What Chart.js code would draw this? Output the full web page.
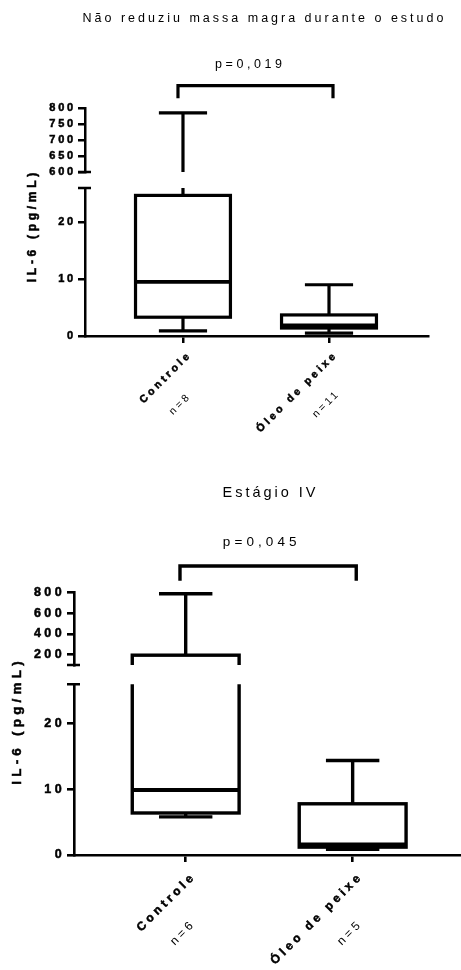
<!DOCTYPE html>
<html>
<head>
<meta charset="utf-8">
<script src="https://cdn.jsdelivr.net/npm/chart.js@4.4.0/dist/chart.umd.min.js"></script>
<style>
  html, body { margin: 0; padding: 0; background: #fff; }
  .panel { position: absolute; left: 0; width: 461px; }
</style>
</head>
<body>
<div class="panel" style="top:0;height:465px"><canvas id="c1"></canvas></div>
<div class="panel" style="top:465px;height:505px"><canvas id="c2"></canvas></div>
<script>
const groups = ['Controle', 'Óleo de peixe'];

// painel 1 - nao reduziu massa magra
const title1 = 'Não reduziu massa magra durante o estudo';
const pValue1 = 'p=0,019';
const nLabels1 = ['n=8', 'n=11'];
const min1 = [0.9, 0.5];
const q1_1 = [3.3, 1.4];
const median1 = [9.5, 1.9];
const q3_1 = [24.7, 3.7];
const max1 = [785, 9.0];
const lowRange1 = [0, 26];
const highRange1 = [600, 800];
const lowTicks1 = [0, 10, 20];
const highTicks1 = [600, 650, 700, 750, 800];

// painel 2 - estagio IV
const title2 = 'Estágio IV';
const pValue2 = 'p=0,045';
const nLabels2 = ['n=6', 'n=5'];
const min2 = [5.8, 0.85];
const q1_2 = [6.4, 1.2];
const median2 = [9.9, 1.6];
const q3_2 = [195, 7.8];
const max2 = [790, 14.4];
const lowRange2 = [0, 26];
const highRange2 = [100, 800];
const lowTicks2 = [0, 10, 20];
const highTicks2 = [200, 400, 600, 800];

const yTitle = 'IL-6 (pg/mL)';
const FONT = '"Liberation Sans", Arial, Helvetica, sans-serif';

function txt(ctx, s, x, y, size, weight, ls, align) {
  ctx.font = weight + ' ' + size + 'px ' + FONT;
  ctx.letterSpacing = ls + 'px';
  ctx.textAlign = align;
  // letter spacing is added after each glyph, shift so the ink is centred
  const shift = align === 'center' ? ls / 2 : (align === 'right' ? ls : 0);
  ctx.fillText(s, x + shift, y);
  if (weight === 'bold') {
    ctx.lineWidth = 0.5;
    ctx.strokeText(s, x + shift, y);
  }
}

function boxPlugin(p) {
  return {
    id: 'boxes',
    beforeDraw(chart) {
      chart.ctx.letterSpacing = p.tickLs + 'px';
    },
    afterDraw(chart) {
      const ctx = chart.ctx;
      const xs = chart.scales.x;
      const area = chart.chartArea;
      const segs = [chart.scales.yHigh, chart.scales.yLow];
      ctx.save();
      ctx.strokeStyle = '#000';
      ctx.fillStyle = '#000';
      ctx.lineCap = 'butt';
      ctx.lineJoin = 'miter';

      // boxes, cut at the axis break
      segs.forEach((ys, k) => {
        ctx.save();
        const top = k === 0 ? ys.top - 6 : ys.top;
        const bottom = k === 1 ? ys.bottom + 6 : ys.bottom;
        ctx.beginPath();
        ctx.rect(area.left + 2, top, area.right - area.left, bottom - top);
        ctx.clip();
        p.groups.forEach((g, i) => {
          const cx = xs.getPixelForValue(i);
          const bw = xs.getPixelForValue(i + p.boxW / 2) - cx;
          const cw = xs.getPixelForValue(i + p.capW / 2) - cx;
          const yMin = ys.getPixelForValue(p.min[i]);
          const yQ1 = ys.getPixelForValue(p.q1[i]);
          const yMed = ys.getPixelForValue(p.median[i]);
          const yQ3 = ys.getPixelForValue(p.q3[i]);
          const yMax = ys.getPixelForValue(p.max[i]);
          ctx.lineWidth = p.lw;
          ctx.beginPath();
          ctx.moveTo(cx, yMax); ctx.lineTo(cx, yQ3);
          ctx.moveTo(cx, yQ1); ctx.lineTo(cx, yMin);
          ctx.moveTo(cx - cw, yMax); ctx.lineTo(cx + cw, yMax);
          ctx.moveTo(cx - cw, yMin); ctx.lineTo(cx + cw, yMin);
          ctx.stroke();
          ctx.fillStyle = '#fff';
          ctx.fillRect(cx - bw, yQ3, 2 * bw, yQ1 - yQ3);
          ctx.strokeRect(cx - bw, yQ3, 2 * bw, yQ1 - yQ3);
          ctx.lineWidth = p.medLw;
          ctx.beginPath();
          ctx.moveTo(cx - bw, yMed); ctx.lineTo(cx + bw, yMed);
          ctx.stroke();
        });
        ctx.restore();
      });

      // break marks
      ctx.lineWidth = p.axisLw;
      ctx.beginPath();
      ctx.moveTo(area.left - 7, chart.scales.yHigh.bottom);
      ctx.lineTo(area.left + 6, chart.scales.yHigh.bottom);
      ctx.moveTo(area.left - 7, chart.scales.yLow.top);
      ctx.lineTo(area.left + 6, chart.scales.yLow.top);
      ctx.stroke();

      // bracket
      const bx0 = xs.getPixelForValue(0) + p.bracket[0];
      const bx1 = xs.getPixelForValue(1) + p.bracket[1];
      ctx.lineWidth = p.lw;
      ctx.beginPath();
      ctx.moveTo(bx0, p.bracket[3]);
      ctx.lineTo(bx0, p.bracket[2]);
      ctx.lineTo(bx1, p.bracket[2]);
      ctx.lineTo(bx1, p.bracket[3]);
      ctx.stroke();

      ctx.fillStyle = '#000';
      ctx.textBaseline = 'alphabetic';
      txt(ctx, p.title, p.titlePos[0], p.titlePos[1], p.titleSize, 'normal', p.titleLs, 'center');
      txt(ctx, p.pValue, p.pPos[0], p.pPos[1], p.pSize, 'normal', p.pLs, 'center');

      // y axis title
      ctx.save();
      ctx.translate(p.yTitlePos[0], p.yTitlePos[1]);
      ctx.rotate(-Math.PI / 2);
      ctx.textBaseline = 'middle';
      txt(ctx, yTitle, 0, 0, p.yTitleSize, 'bold', p.yTitleLs, 'center');
      ctx.restore();

      // category labels
      p.groups.forEach((g, i) => {
        const tx = xs.getPixelForValue(i);
        ctx.save();
        ctx.translate(tx + p.labOff[0], area.bottom + p.labOff[1]);
        ctx.rotate(-Math.PI / 4);
        ctx.textBaseline = 'alphabetic';
        txt(ctx, g, 0, 0, p.labSize, 'bold', p.labLs, 'right');
        txt(ctx, p.nLabels[i], p.nOff[0], p.nOff[1], p.labSize, 'normal', p.nLs, 'center');
        ctx.restore();
      });
      ctx.restore();
    }
  };
}

function makePanel(id, p) {
  const axisGrid = { display: true, drawOnChartArea: false, drawTicks: true, tickLength: 7, color: '#000', lineWidth: p.axisLw };
  const axisBorder = { display: true, color: '#000', width: p.axisLw };
  const tickFont = { family: FONT, size: p.tickSize, weight: 'bold' };
  const tickOpts = { color: '#000', font: tickFont, padding: 2, autoSkip: false, textStrokeColor: '#000', textStrokeWidth: 0.5 };
  const fixW = s => { s.width = p.yWidth; };
  new Chart(document.getElementById(id), {
    type: 'scatter',
    data: { datasets: [] },
    options: {
      responsive: true,
      maintainAspectRatio: false,
      animation: false,
      devicePixelRatio: 1,
      layout: { padding: p.padding },
      plugins: { legend: { display: false }, tooltip: { enabled: false } },
      scales: {
        x: {
          type: 'linear', min: p.xRange[0], max: p.xRange[1],
          grid: axisGrid, border: axisBorder,
          ticks: { display: false, autoSkip: false },
          afterBuildTicks: s => { s.ticks = p.groups.map((g, i) => ({ value: i })); }
        },
        yHigh: {
          type: 'linear', position: 'left', stack: 'il6', stackWeight: p.weights[0], weight: 3,
          min: p.highRange[0], max: p.highRange[1],
          grid: axisGrid, border: axisBorder, ticks: tickOpts,
          afterBuildTicks: s => { s.ticks = p.highTicks.map(v => ({ value: v })); },
          afterFit: fixW
        },
        yGap: {
          type: 'linear', position: 'left', stack: 'il6', stackWeight: p.weights[1], weight: 2,
          min: 0, max: 1,
          grid: { display: false }, border: { display: false }, ticks: { display: false },
          afterFit: fixW
        },
        yLow: {
          type: 'linear', position: 'left', stack: 'il6', stackWeight: p.weights[2], weight: 1,
          min: p.lowRange[0], max: p.lowRange[1],
          grid: axisGrid, border: axisBorder, ticks: tickOpts,
          afterBuildTicks: s => { s.ticks = p.lowTicks.map(v => ({ value: v })); },
          afterFit: fixW
        }
      }
    },
    plugins: [boxPlugin(p)]
  });
}

makePanel('c1', {
  groups: groups, nLabels: nLabels1, title: title1, pValue: pValue1,
  min: min1, q1: q1_1, median: median1, q3: q3_1, max: max1,
  lowRange: lowRange1, highRange: highRange1, lowTicks: lowTicks1, highTicks: highTicks1,
  padding: { top: 108, bottom: 122, left: 0, right: 33 },
  yWidth: 85, weights: [64, 16, 148], xRange: [-0.671, 1.678],
  boxW: 0.65, capW: 0.33, lw: 3.2, medLw: 3.6, axisLw: 2.5,
  tickSize: 11, tickLs: 2.8,
  bracket: [-5, 4, 85.7, 98.3],
  titlePos: [263, 21.7], titleSize: 12.5, titleLs: 3.0,
  pPos: [248.5, 67.7], pSize: 12.5, pLs: 3.6,
  yTitlePos: [33, 227.5], yTitleSize: 12, yTitleLs: 3.7,
  labOff: [6.8, 21.4], labSize: 10.5, labLs: 3.2,
  nOff: [-41, 29], nLs: 2.8
});

makePanel('c2', {
  groups: groups, nLabels: nLabels2, title: title2, pValue: pValue2,
  min: min2, q1: q1_2, median: median2, q3: q3_2, max: max2,
  lowRange: lowRange2, highRange: highRange2, lowTicks: lowTicks2, highTicks: highTicks2,
  padding: { top: 127.7, bottom: 108, left: 0, right: 0 },
  yWidth: 74, weights: [72.3, 19.3, 170.7], xRange: [-0.669, 1.649],
  boxW: 0.64, capW: 0.32, lw: 3.4, medLw: 3.8, axisLw: 2.6,
  tickSize: 12.5, tickLs: 3.4,
  bracket: [-5.7, 3.6, 101, 115.7],
  titlePos: [269, 32.3], titleSize: 14.5, titleLs: 3.0,
  pPos: [259.7, 81], pSize: 13.5, pLs: 4.1,
  yTitlePos: [17.5, 258], yTitleSize: 13.5, yTitleLs: 4.2,
  labOff: [8.2, 24.3], labSize: 12, labLs: 3.6,
  nOff: [-47, 33.4], nLs: 3.3
});
</script>
</body>
</html>
